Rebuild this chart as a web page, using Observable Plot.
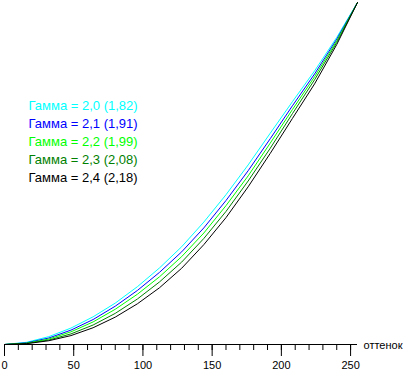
<!DOCTYPE html>
<html>
<head>
<meta charset="utf-8">
<script src="https://cdn.jsdelivr.net/npm/d3@7"></script>
<script src="https://cdn.jsdelivr.net/npm/@observablehq/plot@0.6"></script>
<style>
  html, body { margin: 0; padding: 0; background: #fff; }
  svg { display: block; }
</style>
</head>
<body>
<div id="chart"></div>
<script>
// Input levels (оттенок)
const levels = [0, 16, 32, 48, 64, 80, 96, 112, 128, 144, 160, 176, 192, 208, 224, 240, 255];

// Output brightness (% of max)
const gamma20 = [0, 0.65, 2.3, 4.8, 8.1, 12.1, 16.9, 22.4, 28.6, 35.8, 43.8, 52.5, 61.8, 71.0, 80.0, 89.8, 100];
const gamma21 = [0, 0.50, 1.9, 4.2, 7.3, 11.2, 15.8, 21.1, 27.1, 34.1, 42.1, 50.8, 60.2, 69.8, 79.1, 89.3, 100];
const gamma22 = [0, 0.40, 1.6, 3.7, 6.6, 10.3, 14.7, 19.8, 25.7, 32.6, 40.6, 49.3, 58.9, 68.7, 78.3, 88.8, 100];
const gamma23 = [0, 0.32, 1.3, 3.1, 5.7, 9.1, 13.3, 18.3, 24.1, 31.0, 38.9, 47.8, 57.4, 67.5, 77.4, 88.3, 100];
const gamma24 = [0, 0.24, 1.1, 2.6, 4.9, 8.0, 11.9, 16.6, 22.3, 29.2, 37.1, 46.1, 55.9, 66.1, 76.2, 87.7, 100];

const seriesLabels = [
  "Гамма = 2,0 (1,82)",
  "Гамма = 2,1 (1,91)",
  "Гамма = 2,2 (1,99)",
  "Гамма = 2,3 (2,08)",
  "Гамма = 2,4 (2,18)"
];
const seriesColors = ["#00ffff", "#0000ff", "#00ff00", "#008000", "#000000"];
const seriesValues = [gamma20, gamma21, gamma22, gamma23, gamma24];

const majorTicks = [0, 50, 100, 150, 200, 250];
const minorTicks = d3.range(0, 251, 10);
const axisName = "оттенок";

const table = [];
seriesValues.forEach((vals, s) => {
  vals.forEach((v, i) => table.push({level: levels[i], value: v, series: seriesLabels[s]}));
});

const chart = Plot.plot({
  width: 408,
  height: 371,
  marginLeft: 4,
  marginRight: 51,
  marginTop: 2,
  marginBottom: 27,
  style: {fontFamily: "'Liberation Sans', Arial, sans-serif", background: "#fff", color: "#000"},
  x: {domain: [0, 255], label: null},
  y: {domain: [0, 100], axis: null, label: null},
  color: {domain: seriesLabels, range: seriesColors},
  marks: [
    Plot.line(table, {x: "level", y: "value", z: "series", stroke: "series", strokeWidth: 1}),
    Plot.ruleY([0], {stroke: "#000", strokeWidth: 1}),
    Plot.axisX({ticks: minorTicks, tickSize: 6, tickFormat: () => "", stroke: "#000", label: null}),
    Plot.axisX({ticks: majorTicks, tickSize: 12, tickPadding: 5, fontSize: 11, fill: "#000", stroke: "#000", label: null}),
    Plot.text([axisName], {frameAnchor: "bottom-right", dx: 6, dy: 1, textAnchor: "start", lineAnchor: "middle", fontSize: 11, fill: "#000"}),
    ...seriesLabels.map((t, i) => Plot.text([t], {
      frameAnchor: "top-left", dx: 24, dy: 103 + i * 18,
      textAnchor: "start", lineAnchor: "middle", fontSize: 13, fill: seriesColors[i]
    }))
  ]
});
document.getElementById("chart").append(chart);
</script>
</body>
</html>
